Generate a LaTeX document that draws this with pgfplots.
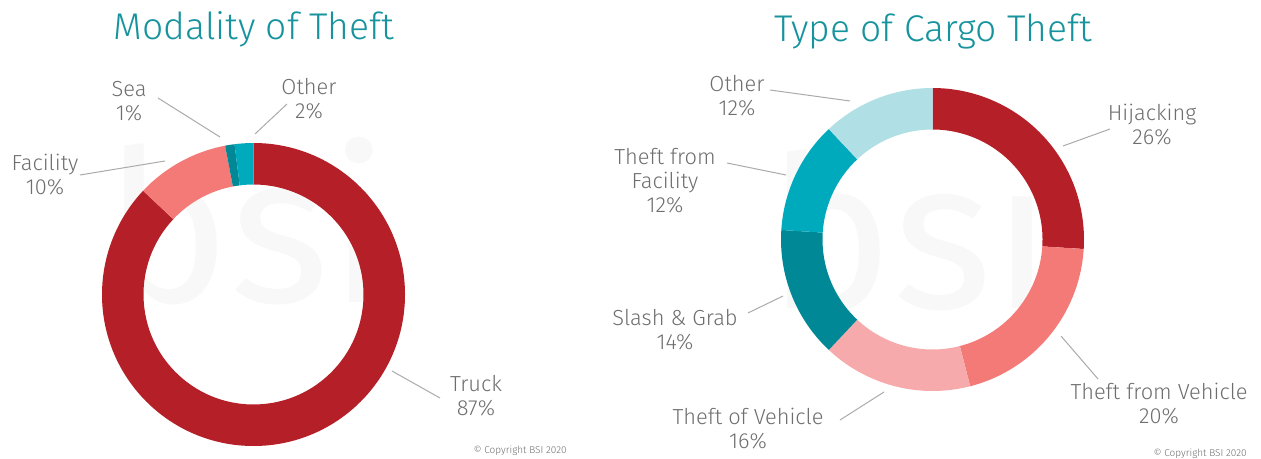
\documentclass[border=0pt]{standalone}
\usepackage{pgfplots}
\pgfplotsset{compat=1.18}
\usepackage{fontspec}
\setmainfont{Fira Sans Light}
\newfontfamily\wmfont{Fira Sans}
\definecolor{dred}{HTML}{B51F28}
\definecolor{salmon}{HTML}{F47A77}
\definecolor{lpink}{HTML}{F7AAAC}
\definecolor{dteal}{HTML}{008896}
\definecolor{teal2}{HTML}{00AABD}
\definecolor{lblue}{HTML}{B0DFE5}
\definecolor{titlec}{HTML}{17939E}
\definecolor{labc}{HTML}{6E6E6E}
\definecolor{linec}{HTML}{AAAAAA}
\definecolor{wmark}{HTML}{F8F8F8}
\tikzset{lab/.style={text=labc, align=center, font=\fontsize{10.9}{12}\selectfont, inner sep=0pt},
  ldr/.style={linec, line width=0.5pt}}
% donut: centre x, centre y (pixels), list value/colour (clockwise from top)
\newcommand\donut[3]{%
  \xdef\angstart{90}%
  \foreach \v/\c in {#3} {%
    \pgfmathsetmacro\angend{\angstart-3.6*\v}%
    \edef\tmp{\noexpand\fill[\c] ([shift={(\angstart:75.75pt)}]axis cs:#1,#2) arc[start angle=\angstart, end angle=\angend, radius=75.75pt] -- ([shift={(\angend:55pt)}]axis cs:#1,#2) arc[start angle=\angend, end angle=\angstart, radius=55pt] -- cycle;}%
    \tmp
    \xdef\angstart{\angend}%
  }}
\begin{document}
\begin{tikzpicture}
\begin{axis}[x=0.5pt, y=0.5pt, y dir=reverse, xmin=0, xmax=1261, ymin=0, ymax=459,
  hide axis, clip=false, scale only axis]
\path (axis cs:0,0) rectangle (axis cs:1261,459);
% watermarks
\node[text=wmark, font=\wmfont\fontsize{106}{106}\selectfont, anchor=base, inner sep=0pt] at (axis cs:247,302) {bsi};
\node[text=wmark, font=\wmfont\fontsize{106}{106}\selectfont, anchor=base, inner sep=0pt] at (axis cs:910,308) {bsi};
% titles
\node[text=titlec, font=\fontsize{18.6}{20}\selectfont] at (axis cs:254,29) {Modality of Theft};
\node[text=titlec, font=\fontsize{18.6}{20}\selectfont] at (axis cs:933,31) {Type of Cargo Theft};
% left donut: Truck, Facility, Sea, Other
\donut{253.5}{294.5}{87/dred,10/salmon,1/dteal,2/teal2}
% right donut: Hijacking, Theft from Vehicle, Theft of Vehicle, Slash & Grab, Theft from Facility, Other
\donut{932.5}{239.5}{26/dred,20/salmon,16/lpink,14/dteal,12/teal2,12/lblue}
% left labels
\draw[ldr] (axis cs:158,98) -- (axis cs:220,137);
\node[lab] at (axis cs:129,101) {Sea\\1\%};
\draw[ldr] (axis cs:287,104) -- (axis cs:255,134);
\node[lab] at (axis cs:309,99) {Other\\2\%};
\draw[ldr] (axis cs:80,175) -- (axis cs:165,161);
\node[lab] at (axis cs:45,175) {Facility\\10\%};
\draw[ldr] (axis cs:392,371) -- (axis cs:440,398);
\node[lab] at (axis cs:476,396) {Truck\\87\%};
\node[lab, font=\fontsize{5}{6}\selectfont, anchor=east] at (axis cs:567,451) {© Copyright BSI 2020};
% right labels
\draw[ldr] (axis cs:770,90) -- (axis cs:850,101);
\node[lab] at (axis cs:737,96) {Other\\12\%};
\draw[ldr] (axis cs:727,163) -- (axis cs:786,175);
\node[lab] at (axis cs:665,181) {Theft from\\Facility\\12\%};
\draw[ldr] (axis cs:748,313) -- (axis cs:783,296);
\node[lab] at (axis cs:675,330) {Slash \& Grab\\14\%};
\draw[ldr] (axis cs:840,420) -- (axis cs:884,392);
\node[lab] at (axis cs:748,429) {Theft of Vehicle\\16\%};
\draw[ldr] (axis cs:1063,146) -- (axis cs:1110,129);
\node[lab] at (axis cs:1152,125) {Hijacking\\26\%};
\draw[ldr] (axis cs:1061,336) -- (axis cs:1098,379);
\node[lab] at (axis cs:1159,404) {Theft from Vehicle\\20\%};
\node[lab, font=\fontsize{5}{6}\selectfont, anchor=east] at (axis cs:1247,454) {© Copyright BSI 2020};
\end{axis}
\end{tikzpicture}
\end{document}
